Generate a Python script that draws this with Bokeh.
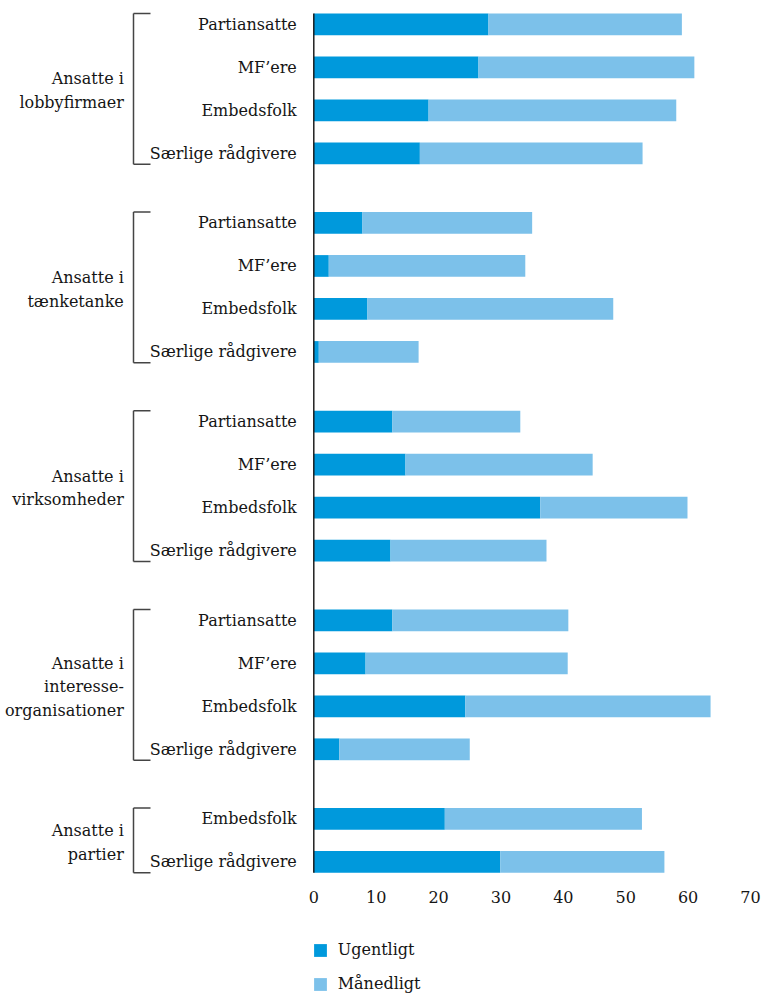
from bokeh.plotting import figure
from bokeh.layouts import column
from bokeh.models import Range1d, FixedTicker, Legend, LegendItem
from bokeh.embed import file_html
from bokeh.resources import INLINE
from bokeh.core.properties import value

# ---------------- data ----------------
group_names = [
    "Ansatte i\nlobbyfirmaer",
    "Ansatte i\ntænketanke",
    "Ansatte i\nvirksomheder",
    "Ansatte i\ninteresse-\norganisationer",
    "Ansatte i\npartier",
]
group_sizes = [4, 4, 4, 4, 2]
sub_labels = ["Partiansatte", "MF’ere", "Embedsfolk", "Særlige rådgivere"] * 4 + [
    "Embedsfolk", "Særlige rådgivere"]
ugentligt = [28.0, 26.4, 18.4, 17.0,
             7.8, 2.4, 8.6, 0.8,
             12.6, 14.7, 36.3, 12.3,
             12.6, 8.3, 24.3, 4.1,
             21.0, 29.9]
maanedligt = [31.0, 34.6, 39.7, 35.7,
              27.2, 31.5, 39.4, 16.0,
              20.5, 30.0, 23.6, 25.0,
              28.2, 32.4, 39.3, 20.9,
              31.6, 26.3]
series_names = ["Ugentligt", "Månedligt"]
x_ticks = [0, 10, 20, 30, 40, 50, 60, 70]

# ---------------- style / layout ----------------
DARK = "#0099DC"
LIGHT = "#7CC1EA"
TXT = "#151515"
FONT = "DejaVu Serif"
FS = "16px"

W = 762
H_MAIN = 914
H_LEG = 80
FRAME_BOTTOM = 880
BORDER_R = 12
BORDER_B = H_MAIN - FRAME_BOTTOM
PLOT_PX = 436.7          # pixels from 0 to 70
PPU = PLOT_PX / 70.0     # px per unit
LEFT_PX = W - BORDER_R - PLOT_PX   # px left of zero inside frame
ROW_PX = 43.0
TOP_PAD_PX = 23.8
GROUP_GAP = 1.62
BAR_H = 0.505

# row positions
pos = []
cur = 0.0
for n in group_sizes:
    for j in range(n):
        pos.append(cur + j)
    cur += n - 1 + GROUP_GAP

frame_h = FRAME_BOTTOM
y_top = -TOP_PAD_PX / ROW_PX
y_bot = y_top + frame_h / ROW_PX

xr = Range1d(-LEFT_PX / PPU, 70)
p = figure(width=W, height=H_MAIN, output_backend="svg", toolbar_location=None,
           x_range=xr, y_range=Range1d(y_bot, y_top),
           min_border_left=0, min_border_right=BORDER_R, min_border_top=0,
           min_border_bottom=BORDER_B, y_axis_location=None)
p.outline_line_color = None
p.xgrid.grid_line_color = None
p.ygrid.grid_line_color = None
p.background_fill_color = "white"
p.border_fill_color = "white"

totals = [u + m for u, m in zip(ugentligt, maanedligt)]
r1 = p.hbar(y=pos, left=0, right=ugentligt, height=BAR_H, fill_color=DARK, line_color=None)
r2 = p.hbar(y=pos, left=ugentligt, right=totals, height=BAR_H, fill_color=LIGHT, line_color=None)

# zero line
p.segment(x0=[0], y0=[pos[0] - BAR_H / 2], x1=[0], y1=[pos[-1] + BAR_H / 2],
          line_color="#111111", line_width=1.4)

# sub labels
p.text(x=[0] * len(pos), y=pos, text=sub_labels, x_offset=-17,
       text_align="right", text_baseline="middle",
       text_font=value(FONT), text_font_size=FS, text_color=TXT)

# group labels and brackets
bx = -180.3 / PPU
bt = -163.3 / PPU
gy, bx0, by0, bx1, by1 = [], [], [], [], []
i = 0
for n in group_sizes:
    top = pos[i] - BAR_H / 2
    bot = pos[i + n - 1] + BAR_H / 2
    gy.append((pos[i] + pos[i + n - 1]) / 2)
    bx0 += [bx, bx, bx]
    by0 += [top, top, bot]
    bx1 += [bx, bt, bt]
    by1 += [bot, top, bot]
    i += n
p.segment(x0=bx0, y0=by0, x1=bx1, y1=by1, line_color="#444444", line_width=1.5)
p.text(x=[0] * len(gy), y=gy, text=group_names, x_offset=-190, y_offset=2,
       text_align="right", text_baseline="middle", text_line_height=1.25,
       text_font=value(FONT), text_font_size=FS, text_color=TXT)

# x axis
ax = p.xaxis[0]
ax.ticker = FixedTicker(ticks=x_ticks)
ax.axis_line_color = None
ax.major_tick_line_color = None
ax.minor_tick_line_color = None
ax.major_tick_out = 0
ax.major_tick_in = 0
ax.major_label_standoff = 10
ax.major_label_text_font = FONT
ax.major_label_text_font_size = FS
ax.major_label_text_color = TXT

# legend in its own strip below (renderers carry one row each, kept out of view)
lf = figure(width=W, height=H_LEG, output_backend="svg", toolbar_location=None,
            x_range=xr, y_range=Range1d(0, 1),
            min_border_left=0, min_border_right=BORDER_R, min_border_top=0,
            min_border_bottom=0, x_axis_location=None, y_axis_location=None)
lf.outline_line_color = None
lf.xgrid.grid_line_color = None
lf.ygrid.grid_line_color = None
off = [-10.0]
l1 = lf.hbar(y=off, left=[0], right=ugentligt[:1], height=BAR_H,
             fill_color=DARK, line_color=None)
l2 = lf.hbar(y=off, left=ugentligt[:1], right=totals[:1], height=BAR_H,
             fill_color=LIGHT, line_color=None)
legend = Legend(items=[LegendItem(label=series_names[0], renderers=[l1]),
                       LegendItem(label=series_names[1], renderers=[l2])],
                location=(LEFT_PX - 1.6, 1), orientation="vertical",
                glyph_width=16, glyph_height=16, label_standoff=10,
                spacing=15, padding=0, margin=0,
                border_line_color=None, background_fill_alpha=0,
                label_text_font=FONT, label_text_font_size=FS,
                label_text_color=TXT)
lf.add_layout(legend, "center")

layout = column(p, lf, spacing=0)
open("out.html", "w").write(file_html(layout, INLINE))
